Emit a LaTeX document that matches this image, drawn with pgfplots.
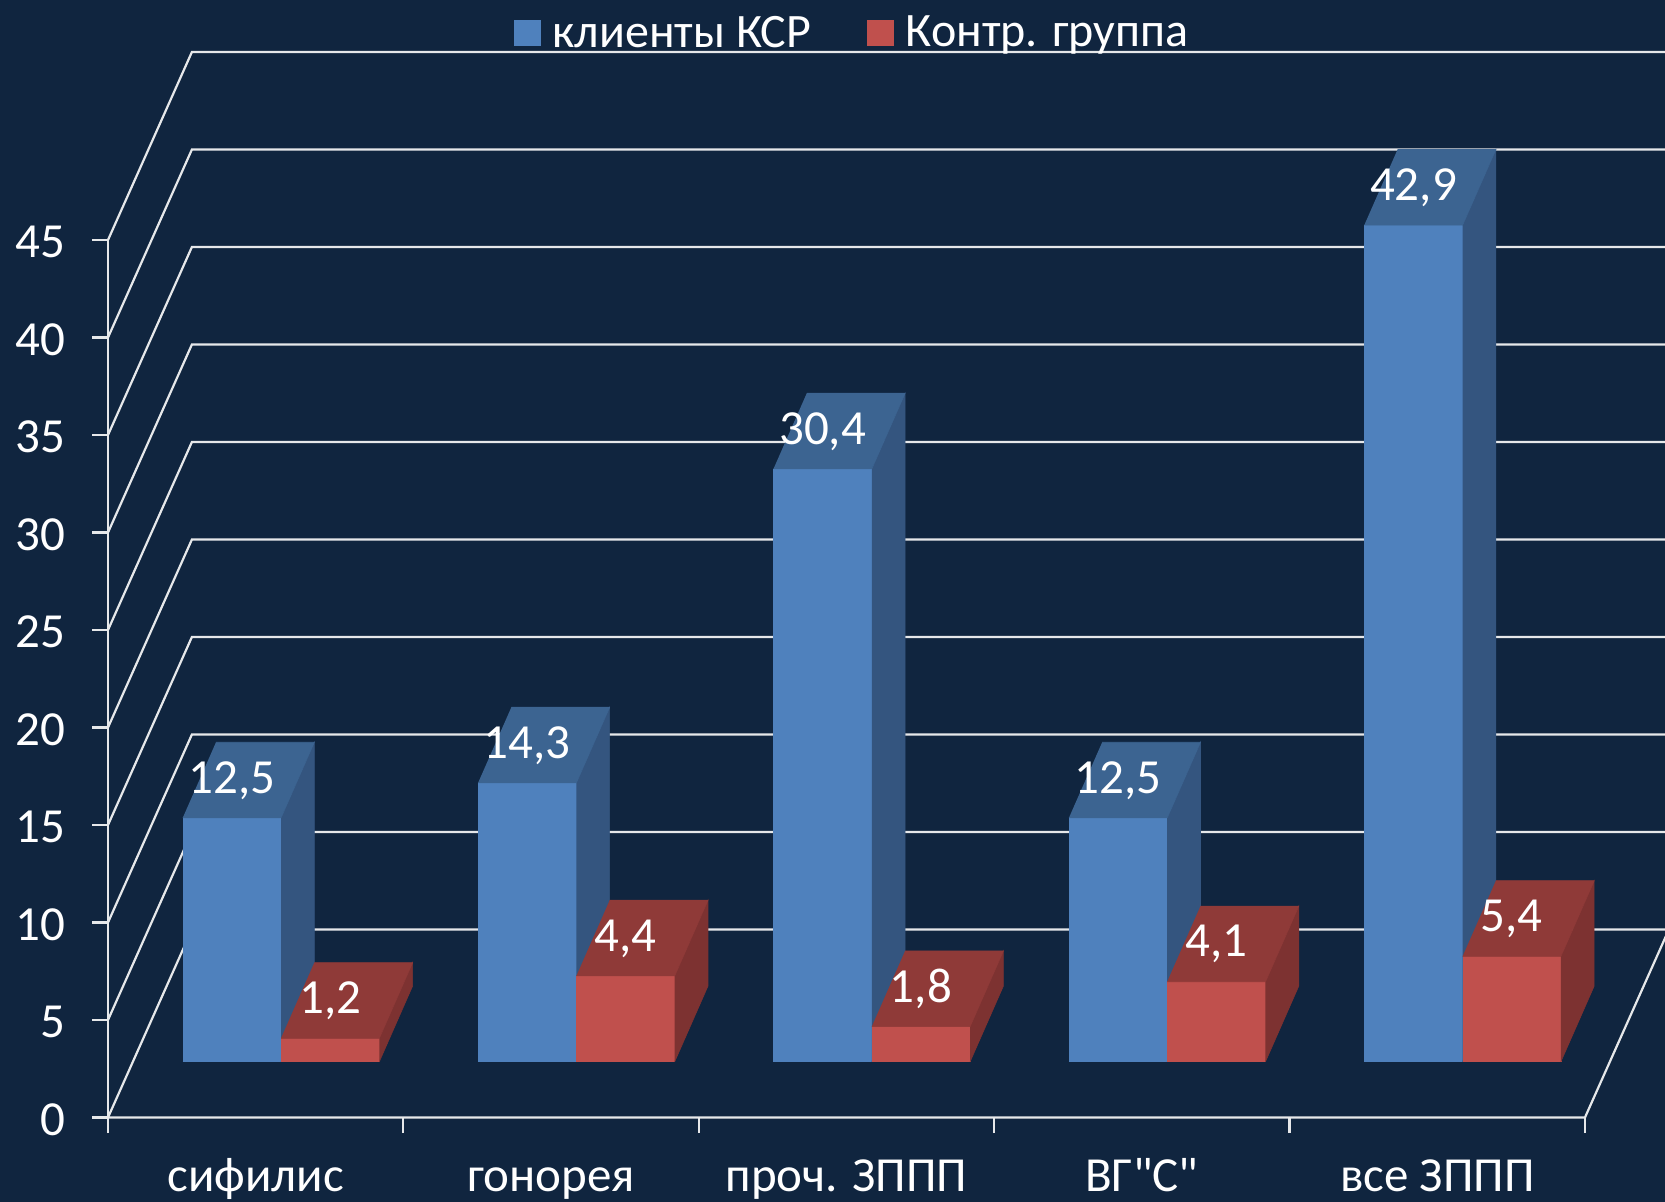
\documentclass[border=0pt]{standalone}
\usepackage{fontspec}
\setmainfont{Carlito}
\newfontfamily\plainf{Carlito}
\usepackage{pgfplots}
\pgfplotsset{compat=1.18}
\definecolor{bgnavy}{HTML}{10253F}
\definecolor{gridc}{HTML}{E6E8EA}
\definecolor{blueF}{HTML}{4F81BD}
\definecolor{blueS}{HTML}{34557F}
\definecolor{blueT}{HTML}{3C6491}
\definecolor{redF}{HTML}{C0504D}
\definecolor{redS}{HTML}{7D3231}
\definecolor{redT}{HTML}{8F3A38}
\newcommand{\lblfont}{\fontsize{24.5}{29}\selectfont}
\newcommand{\legfont}{\fontsize{24}{29}\selectfont}

% wall line: front value, then value at the back wall
\newcommand{\wall}[2]{\addplot[gridc, line width=1.1pt] coordinates {(0,#1)(0.284,#2)(5.3,#2)};}

% one 3D bar: left edge, value, colour prefix
\newcommand{\barbox}[3]{%
  \pgfmathsetmacro\xb{#1+0.3328}%
  \pgfmathsetmacro\xc{#1+0.1127}%
  \pgfmathsetmacro\xd{#1+0.3328+0.1127}%
  \pgfmathsetmacro\yt{#2+3.88}%
  \addplot[fill=#3F, draw=#3F, line width=0.3pt] coordinates {(#1,0)(\xb,0)(\xb,#2)(#1,#2)};
  \addplot[fill=#3S, draw=#3S, line width=0.3pt] coordinates {(\xb,0)(\xd,3.88)(\xd,\yt)(\xb,#2)};
  \addplot[fill=#3T, draw=#3T, line width=0.3pt] coordinates {(#1,#2)(\xb,#2)(\xd,\yt)(\xc,\yt)};
}

\begin{document}
\begin{tikzpicture}
\fill[bgnavy] (0,0) rectangle (832.5pt,601pt);
\useasboundingbox (0,0) rectangle (832.5pt,601pt);

% walls, floor, ticks, legend
\begin{axis}[
  at={(54pt,42.25pt)}, anchor=south west,
  scale only axis, width=778.5pt, height=558.75pt,
  xmin=0, xmax=5.271, ymin=0, ymax=57.31,
  clip=false,
  axis lines=left,
  axis line style={draw=none},
  tick align=outside,
  major tick length=7.8pt,
  tick style={draw=gridc, line width=1.1pt},
  xtick={0,1,2,3,4,5},
  x tick label as interval,
  xticklabels={сифилис,гонорея,проч. ЗППП,ВГ{\plainf"}С{\plainf"},все ЗППП},
  ytick={0,5,10,15,20,25,30,35,40,45},
  /pgf/number format/assume math mode=true,
  tick label style={font=\lblfont, text=white},
  yticklabel style={xshift=-10pt, yshift=-1pt},
  xticklabel style={text height=17pt, text depth=3pt, inner ysep=1pt, yshift=-11pt},
  legend style={at={(0.4787,0.9705)}, anchor=center, fill=none, draw=none,
    legend columns=2, font=\legfont, text=white,
    /tikz/every even column/.append style={column sep=26pt}},
  legend image code/.code={\fill[#1] (0pt,-6.4pt) rectangle (12.8pt,6.4pt);
    \path[draw=none] (0pt,0pt) -- (17pt,0pt);},
]
\addlegendimage{blueF}
\addlegendentry{клиенты КСР}
\addlegendimage{redF}
\addlegendentry{Контр. группа}
\wall{0}{9.64}
\wall{5}{14.64}
\wall{10}{19.64}
\wall{15}{24.64}
\wall{20}{29.64}
\wall{25}{34.64}
\wall{30}{39.64}
\wall{35}{44.64}
\wall{40}{49.64}
\wall{45}{54.64}
\addplot[gridc, line width=1.1pt] coordinates {(0,0)(0,45)};
\addplot[gridc, line width=1.1pt] coordinates {(0,0)(5,0)(5.3,10.18)};
\end{axis}

% bars: y=0 here is the floor line of the bars, x=k the middle of category k
\begin{axis}[
  at={(140.5pt,70.15pt)}, anchor=south west,
  scale only axis, width=778.5pt, height=558.75pt,
  xmin=0, xmax=5.271, ymin=0, ymax=57.31,
  clip=false, hide axis,
  /pgf/number format/.cd, use comma, fixed, fixed zerofill, precision=1, assume math mode=true,
  /pgfplots/.cd,
  every node near coord/.append style={anchor=center, yshift=18.7pt, text=white, font=\lblfont},
]
\barbox{-0.3328}{12.5}{blue}
\barbox{0}{1.2}{red}
\barbox{0.6672}{14.3}{blue}
\barbox{1}{4.4}{red}
\barbox{1.6672}{30.4}{blue}
\barbox{2}{1.8}{red}
\barbox{2.6672}{12.5}{blue}
\barbox{3}{4.1}{red}
\barbox{3.6672}{42.9}{blue}
\barbox{4}{5.4}{red}
\addplot[draw=none, nodes near coords] coordinates {(-0.1664,12.5)(0.8336,14.3)(1.8336,30.4)(2.8336,12.5)(3.8336,42.9)};
\addplot[draw=none, nodes near coords] coordinates {(0.1664,1.2)(1.1664,4.4)(2.1664,1.8)(3.1664,4.1)(4.1664,5.4)};
\end{axis}
\end{tikzpicture}
\end{document}
